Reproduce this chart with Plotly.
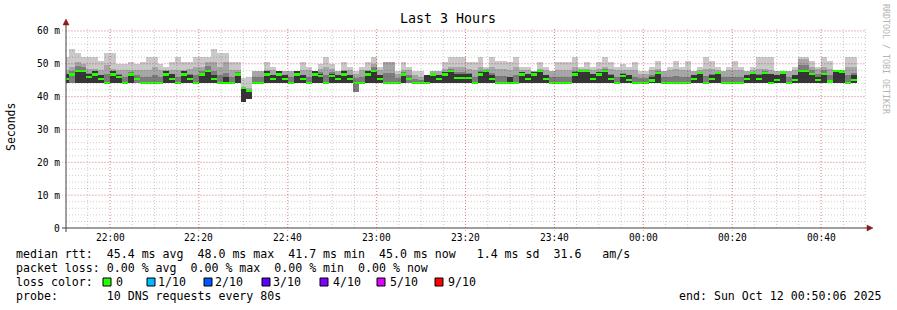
import pandas as pd
import plotly.graph_objects as go

# ---------------- data (ms) ----------------
STEP_START = "2025-10-11 21:49:22"   # start of first (partial) 80 s step
STEP_SECONDS = 80
X_START = "2025-10-11 21:50:06"
X_END = "2025-10-12 00:50:06"

rtt_max = [52.2, 54.5, 53.4, 52.2, 52.2, 52.2, 51.0, 53.4, 53.4, 50.0, 50.0, 50.5, 50.0, 50.5, 52.2, 52.2, 50.0, 49.1,
           50.5, 52.2, 50.5, 50.5, 52.2, 52.2, 52.2, 54.5, 53.4, 53.4, 50.5, 50.5, 45.7, 46.0, 47.9, 47.9, 50.5,
           49.1, 47.9, 47.9, 47.9, 47.9, 50.5, 49.1, 47.9, 50.0, 52.2, 50.0, 47.9, 50.5, 49.1, 47.9, 49.1, 50.5,
           52.2, 49.1, 50.5, 50.5, 47.9, 50.5, 49.1, 47.9, 47.9, 46.7, 47.9, 47.9, 50.5, 52.2, 52.2, 52.2,
           50.5, 50.5, 52.2, 49.1, 52.2, 51.0, 51.0, 50.5, 52.2, 49.1, 49.1, 47.9, 50.5, 49.1, 47.9, 50.5, 50.5,
           50.5, 52.2, 49.1, 50.5, 49.1, 50.5, 52.2, 50.5, 49.1, 50.0, 49.1, 50.5, 47.9, 47.9, 49.1, 51.0, 47.9,
           49.1, 51.0, 49.1, 51.0, 47.9, 49.1, 52.2, 51.0, 49.1, 47.9, 49.1, 51.0, 49.1, 47.9, 49.1, 52.2, 52.2,
           52.2, 47.9, 47.9, 47.9, 49.1, 52.2, 52.2, 51.0, 49.1, 52.2, 51.0, 47.9, 47.9, 52.2, 52.2]

rtt_mid = [48.0, 49.0, 50.5, 50.0, 48.5, 48.5, 48.0, 49.5, 48.5, 48.0, 48.0, 48.0, 48.0, 48.0, 48.0, 49.0, 48.0, 48.0,
           48.0, 48.0, 48.0, 48.5, 49.0, 49.0, 50.5, 50.5, 49.0, 50.5, 48.0, 48.0, 43.0, 42.5, 47.9, 47.9, 48.0,
           48.0, 47.9, 47.9, 47.9, 47.9, 48.0, 48.0, 47.9, 48.5, 49.1, 48.5, 47.9, 48.0, 48.0, 47.0, 48.0, 48.0,
           50.0, 48.0, 50.5, 50.5, 47.0, 48.0, 48.0, 46.5, 46.0, 46.7, 47.9, 47.9, 48.5, 49.1, 49.1, 49.1,
           48.5, 48.0, 49.1, 48.5, 49.1, 48.5, 48.5, 48.0, 49.1, 48.0, 48.0, 47.9, 48.5, 48.0, 47.9, 48.0, 48.0,
           48.0, 49.0, 48.5, 48.5, 48.0, 48.5, 49.1, 48.5, 48.0, 48.0, 48.0, 48.0, 47.0, 47.0, 48.0, 48.5, 47.9,
           48.0, 48.5, 48.0, 48.0, 47.9, 48.0, 48.5, 48.5, 48.0, 47.9, 48.0, 48.0, 48.0, 47.9, 48.0, 48.5, 48.5,
           48.0, 47.9, 47.9, 47.9, 48.0, 51.5, 51.5, 49.1, 48.5, 49.1, 48.5, 47.9, 47.9, 49.1, 49.1]

N = None
rtt_core = [47.0, N, 47.9, 47.9, 47.0, 47.9, 46.5, N, 47.9, 46.7, N, 46.7, N, N, N, N, N, 47.9,
            47.0, N, 47.9, 46.5, N, 47.0, 47.9, 46.5, N, 46.0, N, 47.0, 42.3, 41.5, N, N, 47.9,
            46.5, 47.9, 46.5, N, 47.9, 46.5, N, 47.9, 47.0, N, 47.0, 46.5, 47.9, 46.5, N, N, 47.9,
            47.9, 46.5, N, N, N, 47.0, N, N, N, 46.7, 47.0, 46.5, 47.5, 47.9, 47.0, 47.0,
            47.0, N, 47.5, 47.9, 46.5, N, N, 46.0, N, 47.5, 47.0, 47.5, 47.9, 46.5, N, N, N,
            N, 47.5, 47.9, 47.9, 47.0, 47.5, 47.9, 46.5, N, 47.0, 46.5, N, N, N, 46.0, 47.5, N,
            N, N, N, N, 46.5, 47.5, N, 46.5, 47.5, N, N, N, N, 46.5, 47.5, 46.5, 47.5,
            47.0, 46.5, 47.5, N, 46.5, 47.9, 47.9, 47.0, 46.0, 47.0, N, 47.9, 47.5, N, 46.5]

rtt_min = [44.0, 44.0, 44.0, 44.0, 44.0, 44.0, 44.0, 44.0, 44.0, 44.0, 44.0, 44.0, 44.0, 44.0, 44.0, 44.0, 44.0, 44.0,
           44.0, 44.0, 44.0, 44.0, 44.0, 44.0, 44.0, 44.0, 44.0, 44.0, 44.0, 44.0, 38.5, 39.3, 44.0, 44.0, 44.0,
           44.0, 44.0, 44.0, 44.0, 44.0, 44.0, 44.0, 44.0, 44.0, 44.0, 44.0, 44.0, 44.0, 44.0, 41.3, 44.0, 44.0,
           44.0, 44.0, 44.0, 44.0, 44.0, 44.0, 44.0, 44.0, 44.0, 44.0, 44.0, 44.0, 44.0, 44.0, 44.0, 44.0,
           44.0, 44.0, 44.0, 44.0, 44.0, 44.0, 44.0, 44.0, 44.0, 44.0, 44.0, 44.0, 44.0, 44.0, 44.0, 44.0, 44.0,
           44.0, 44.0, 44.0, 44.0, 44.0, 44.0, 44.0, 44.0, 44.0, 44.0, 44.0, 44.0, 44.0, 44.0, 44.0, 44.0, 44.0,
           44.0, 44.0, 44.0, 44.0, 44.0, 44.0, 44.0, 44.0, 44.0, 44.0, 44.0, 44.0, 44.0, 44.0, 44.0, 44.0, 44.0,
           44.0, 44.0, 44.0, 44.0, 44.0, 44.0, 44.0, 44.0, 44.0, 44.0, 44.0, 44.0, 44.0, 44.0, 44.0]

rtt_median = [45.3, 46.7, 47.9, 47.9, 45.9, 46.7, 45.3, 44.1, 46.7, 45.9, 44.1, 46.7, 45.3, 44.1, 44.1, 44.1, 44.1, 46.7,
              45.3, 44.1, 46.7, 45.3, 44.1, 46.7, 47.9, 45.3, 44.1, 44.1, 44.1, 46.7, 42.7, 41.7, 44.1, 44.1, 46.7,
              45.3, 46.7, 45.3, 44.1, 46.7, 45.3, 44.1, 46.7, 46.3, 44.1, 46.3, 45.3, 46.7, 45.3, 44.1, 44.1, 46.7,
              47.9, 45.3, 44.1, 44.1, 44.1, 46.7, 45.3, 44.1, 44.1, 44.1, 46.7, 45.3, 46.7, 47.9, 45.7, 45.7,
              45.7, 44.1, 46.7, 47.9, 45.3, 44.1, 44.1, 44.1, 44.1, 46.7, 45.3, 46.7, 47.9, 45.3, 44.1, 44.1, 44.1,
              44.1, 46.7, 47.9, 47.9, 45.3, 46.7, 47.9, 45.3, 44.1, 46.3, 45.1, 44.1, 44.1, 44.1, 44.9, 47.1, 44.1,
              44.1, 44.1, 44.1, 44.1, 45.3, 47.1, 44.1, 45.3, 47.1, 44.1, 44.1, 44.1, 44.1, 45.3, 47.1, 45.3, 47.1,
              44.1, 45.1, 47.4, 44.1, 45.1, 47.9, 47.9, 46.9, 45.1, 46.9, 44.6, 47.9, 47.6, 44.1, 45.1]

y_tick_vals = [0, 10, 20, 30, 40, 50, 60]
y_tick_text = ["0", "10 m", "20 m", "30 m", "40 m", "50 m", "60 m"]
x_tick_vals = ["2025-10-11 22:00", "2025-10-11 22:20", "2025-10-11 22:40", "2025-10-11 23:00",
               "2025-10-11 23:20", "2025-10-11 23:40", "2025-10-12 00:00", "2025-10-12 00:20",
               "2025-10-12 00:40"]
x_tick_text = ["22:00", "22:20", "22:40", "23:00", "23:20", "23:40", "00:00", "00:20", "00:40"]

stats_line1 = "median rtt:  45.4 ms avg  48.0 ms max  41.7 ms min  45.0 ms now   1.4 ms sd  31.6   am/s"
stats_line2 = "packet loss: 0.00 % avg  0.00 % max  0.00 % min  0.00 % now"
loss_labels = ["0", "1/10", "2/10", "3/10", "4/10", "5/10", "9/10"]
loss_colors = ["#26ff00", "#00b8ff", "#0059ff", "#5e00ff", "#7e00ff", "#dd00ff", "#ff0000"]
probe_line = "probe:       10 DNS requests every 80s"
end_line = "end: Sun Oct 12 00:50:06 2025"

# ---------------- layout geometry ----------------
W, H = 897, 310
PL, PR, PT, PB = 66, 866, 27, 228  # plot area in pixels
Y_MAX = 61.2
MONO = "DejaVu Sans Mono"


def px(x):
    return (x - PL) / (PR - PL)


def py(y):
    return (PB - y) / (PB - PT)


def nb(s):
    return s.replace(" ", "\u00a0")


n = len(rtt_max)
centers = pd.date_range(pd.Timestamp(STEP_START) + pd.Timedelta(seconds=STEP_SECONDS / 2),
                        periods=n, freq=f"{STEP_SECONDS}s")
wid = STEP_SECONDS * 1000

fig = go.Figure()


def band(lo, hi, color):
    xs, bs, hs = [], [], []
    for c, l, h in zip(centers, lo, hi):
        if l is None or h is None or h <= l:
            continue
        xs.append(c)
        bs.append(l)
        hs.append(h - l)
    fig.add_trace(go.Bar(x=xs, y=hs, base=bs, width=wid, marker=dict(color=color, line=dict(width=0)),
                         hoverinfo="skip", showlegend=False))


inner_top = [(m + d) / 2 for m, d in zip(rtt_median, rtt_mid)]
band(rtt_min, rtt_max, "#c9c9c9")
band(rtt_min, rtt_mid, "#a6a6a6")
band(rtt_min, inner_top, "#7c7c7c")
band(rtt_min, rtt_core, "#363636")
band([m - 0.36 for m in rtt_median], [m + 0.36 for m in rtt_median], loss_colors[0])

shapes = []
# grid (drawn above the smoke, like rrdtool)
dot = "1px,2px"
for t in pd.date_range("2025-10-11 21:55", "2025-10-12 00:50", freq="5min"):
    shapes.append(dict(type="line", xref="x", yref="y", x0=t, x1=t, y0=0, y1=Y_MAX, layer="above",
                       line=dict(color="rgba(0,0,0,0.2)", width=1, dash=dot)))
for v in range(2, 61, 2):
    shapes.append(dict(type="line", xref="paper", yref="y", x0=0, x1=1, y0=v, y1=v, layer="above",
                       line=dict(color="rgba(0,0,0,0.2)", width=1, dash=dot)))
for t in x_tick_vals:
    shapes.append(dict(type="line", xref="x", yref="paper", x0=t, x1=t, y0=py(231), y1=1, layer="above",
                       line=dict(color="rgba(255,0,0,0.35)", width=1, dash=dot)))
for v in y_tick_vals[1:]:
    shapes.append(dict(type="line", xref="paper", yref="y", x0=px(62), x1=1, y0=v, y1=v, layer="above",
                       line=dict(color="rgba(255,0,0,0.35)", width=1, dash=dot)))

# axes with arrows
axis_col = "#404040"
shapes.append(dict(type="line", xref="paper", yref="paper", x0=0, x1=0, y0=py(232), y1=py(22), layer="above",
                   line=dict(color=axis_col, width=1)))
shapes.append(dict(type="line", xref="paper", yref="paper", x0=px(62), x1=px(869), y0=0, y1=0, layer="above",
                   line=dict(color=axis_col, width=1)))
arrow_col = "#8b1a1a"
shapes.append(dict(type="path", xref="paper", yref="paper", layer="above", fillcolor=arrow_col,
                   line=dict(color=arrow_col, width=0.5),
                   path=f"M {px(66)},{py(19)} L {px(63)},{py(25)} L {px(69)},{py(25)} Z"))
shapes.append(dict(type="path", xref="paper", yref="paper", layer="above", fillcolor=arrow_col,
                   line=dict(color=arrow_col, width=0.5),
                   path=f"M {px(873)},{py(228)} L {px(867)},{py(225)} L {px(867)},{py(231)} Z"))

annotations = []


def text(x, y, s, size=11.6, anchor="left", color="#000000", angle=0):
    annotations.append(dict(xref="paper", yref="paper", x=px(x), y=py(y), text=nb(s), showarrow=False,
                            xanchor=anchor, yanchor="middle", textangle=angle, borderpad=0,
                            font=dict(family=MONO, size=size, color=color)))


# tick labels
for v, s in zip(y_tick_vals, y_tick_text):
    annotations.append(dict(xref="paper", yref="y", x=px(61), y=v, text=nb(s), showarrow=False,
                            xanchor="right", yanchor="middle", borderpad=0,
                            font=dict(family=MONO, size=9.6, color="#000000")))
for v, s in zip(x_tick_vals, x_tick_text):
    annotations.append(dict(xref="x", yref="paper", x=v, y=py(237.5), text=s, showarrow=False,
                            xanchor="center", yanchor="middle", borderpad=0,
                            font=dict(family=MONO, size=9.6, color="#000000")))

text(448, 19, "Last 3 Hours", size=13.3, anchor="center")
text(11, 127, "Seconds", size=11.5, anchor="center", angle=-90)
text(886, 59, "RRDTOOL / TOBI OETIKER", size=8.3, anchor="center", color="#b4b4b4", angle=90)
text(15, 254, stats_line1)
text(15, 268, stats_line2)
text(15, 282, "loss color:")
box_x = [103, 147, 204, 262, 320, 377, 435]
lab_x = [115, 157, 214, 272, 332, 389, 447]
for bx, lx, lab, col in zip(box_x, lab_x, loss_labels, loss_colors):
    shapes.append(dict(type="rect", xref="paper", yref="paper", x0=px(bx), x1=px(bx + 8),
                       y0=py(278), y1=py(286), fillcolor=col, line=dict(color="#000000", width=1)))
    text(lx, 282, lab)
text(15, 296, probe_line)
text(882, 296, end_line, anchor="right")

fig.update_layout(
    width=W, height=H,
    margin=dict(l=PL, r=W - PR, t=PT, b=H - PB, pad=0),
    paper_bgcolor="#ffffff", plot_bgcolor="#ffffff",
    barmode="overlay", bargap=0,
    showlegend=False,
    shapes=shapes,
    annotations=annotations,
    xaxis=dict(type="date", range=[X_START, X_END], showgrid=False, zeroline=False, showline=False,
               showticklabels=False, ticks=""),
    yaxis=dict(range=[0, Y_MAX], showgrid=False, zeroline=False, showline=False,
               showticklabels=False, ticks=""),
)

fig.write_html("out.html")
